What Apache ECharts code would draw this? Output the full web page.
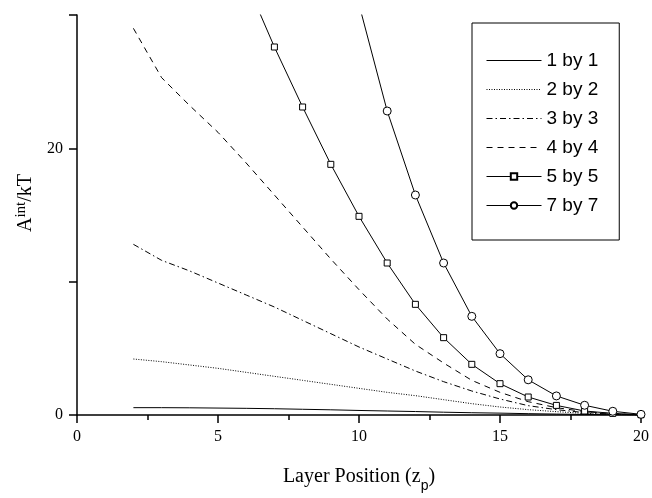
<!DOCTYPE html>
<html>
<head>
<meta charset="utf-8">
<script src="https://cdn.jsdelivr.net/npm/echarts@6/dist/echarts.min.js"></script>
<style>
html, body { margin: 0; padding: 0; background: #fff; }
#main { width: 652px; height: 498px; }
</style>
</head>
<body>
<div id="main"></div>
<script>
// layer positions (z_p)
var positions = [2, 3, 4, 5, 6, 7, 8, 9, 10, 11, 12, 13, 14, 15, 16, 17, 18, 19, 20];
// A_int/kT for each cluster size
var by1 = [0.55, 0.55, 0.54, 0.52, 0.50, 0.47, 0.43, 0.39, 0.34, 0.30, 0.26, 0.21, 0.17, 0.14, 0.10, 0.07, 0.04, 0.02, 0];
var by2 = [4.2, 4.0, 3.75, 3.5, 3.2, 2.9, 2.6, 2.3, 2.0, 1.7, 1.45, 1.15, 0.85, 0.6, 0.4, 0.25, 0.12, 0.05, 0];
var by3 = [12.8, 11.6, 10.8, 9.9, 9.0, 8.1, 7.1, 6.1, 5.1, 4.2, 3.3, 2.5, 1.8, 1.2, 0.7, 0.4, 0.18, 0.06, 0];
var by4 = [29.0, 25.3, 23.2, 21.2, 18.9, 16.5, 14.1, 11.7, 9.4, 7.2, 5.3, 3.9, 2.6, 1.7, 1.0, 0.55, 0.25, 0.1, 0];
var by5 = [null, null, null, null, 32.5, 27.6, 23.1, 18.8, 14.9, 11.4, 8.3, 5.8, 3.8, 2.35, 1.35, 0.72, 0.3, 0.12, 0.02];
var by7 = [null, null, null, null, null, null, null, 40, 30.8, 22.8, 16.5, 11.4, 7.4, 4.6, 2.64, 1.43, 0.73, 0.28, 0.05];
var yLabels = {0: '0', 20: '20'};

function pairs(vals) {
    return positions.map(function (x, i) { return [x, vals[i]]; });
}

var myChart = echarts.init(document.getElementById('main'));

function plain(name, vals, type) {
    return {
        name: name,
        type: 'line',
        symbol: 'none',
        showSymbol: false,
        data: pairs(vals),
        lineStyle: { color: '#000', width: 1, type: type },
        itemStyle: { color: '#000' }
    };
}

function marked(name, vals, sym, size) {
    return {
        name: name,
        type: 'line',
        symbol: sym,
        symbolSize: size,
        data: pairs(vals),
        lineStyle: { color: '#000', width: 1 },
        itemStyle: { color: '#fff', borderColor: '#000', borderWidth: 1 }
    };
}

// no marker in the legend for the plain lines
var noMark = { opacity: 0, color: 'rgba(0,0,0,0)', borderWidth: 0 };

var option = {
    animation: false,
    backgroundColor: '#fff',
    grid: { left: 77, right: 7, top: 15, bottom: 78 },
    legend: {
        orient: 'vertical',
        left: 472,
        top: 23,
        padding: [28, 21, 25, 14],
        itemWidth: 55,
        itemHeight: 8,
        itemGap: 10,
        borderColor: '#000',
        borderWidth: 1,
        backgroundColor: '#fff',
        lineStyle: { width: 1 },
        textStyle: { fontFamily: 'Liberation Sans', fontSize: 19, lineHeight: 19, color: '#000' },
        data: [
            { name: '1 by 1', itemStyle: noMark },
            { name: '2 by 2', itemStyle: noMark },
            { name: '3 by 3', itemStyle: noMark },
            { name: '4 by 4', itemStyle: noMark },
            '5 by 5',
            '7 by 7'
        ]
    },
    xAxis: {
        type: 'value',
        min: 0,
        max: 20,
        interval: 5,
        name: 'Layer Position (z{p|p})',
        nameLocation: 'middle',
        nameGap: 46,
        nameTextStyle: {
            fontFamily: 'Liberation Serif', fontSize: 20, color: '#000',
            rich: { p: { fontFamily: 'Liberation Sans', fontSize: 14, padding: [18, 0, 0, 0], color: '#000' } }
        },
        axisLine: { lineStyle: { color: '#000', width: 1.5 } },
        axisTick: { length: 8, lineStyle: { color: '#000', width: 1.5 } },
        minorTick: { show: true, splitNumber: 2, length: 5, lineStyle: { color: '#000', width: 1.5 } },
        axisLabel: { fontFamily: 'Liberation Serif', fontSize: 16, color: '#000', margin: 14 },
        splitLine: { show: false }
    },
    yAxis: {
        type: 'value',
        min: 0,
        max: 30,
        interval: 10,
        name: 'A{sup|int}/kT',
        nameLocation: 'middle',
        nameGap: 40,
        nameTextStyle: {
            fontFamily: 'Liberation Serif', fontSize: 20, color: '#000', padding: [0, 0, 0, 24],
            rich: { sup: { fontFamily: 'Liberation Serif', fontSize: 15, padding: [0, 0, 8, 0], color: '#000' } }
        },
        axisLine: { show: true, lineStyle: { color: '#000', width: 1.5 } },
        axisTick: { show: true, length: 8, lineStyle: { color: '#000', width: 1.5 } },
        axisLabel: {
            fontFamily: 'Liberation Serif', fontSize: 16, color: '#000', margin: 14,
            formatter: function (v) { return yLabels[v] || ''; }
        },
        splitLine: { show: false }
    },
    series: [
        plain('1 by 1', by1, 'solid'),
        plain('2 by 2', by2, [1, 1.5]),
        plain('3 by 3', by3, [6, 3, 1.5, 3]),
        plain('4 by 4', by4, [6, 5]),
        marked('5 by 5', by5, 'rect', 6),
        marked('7 by 7', by7, 'circle', 8)
    ]
};

myChart.setOption(option);
</script>
</body>
</html>
